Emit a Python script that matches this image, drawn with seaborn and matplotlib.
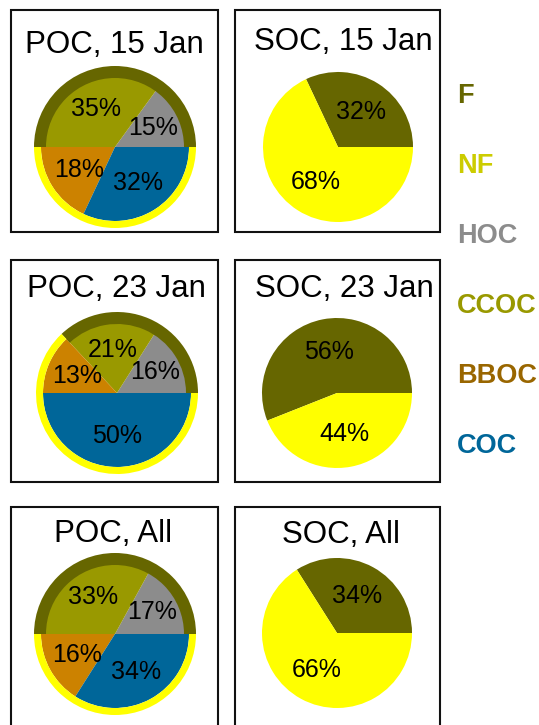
import matplotlib
matplotlib.use('Agg')
import matplotlib.pyplot as plt
import seaborn as sns
from matplotlib.patches import Rectangle

# source apportionment, percent
poc_groups = ['HOC', 'CCOC', 'BBOC', 'COC']
poc_15jan = [15, 35, 18, 32]
poc_23jan = [16, 21, 13, 50]
poc_all = [17, 33, 16, 34]

soc_groups = ['F', 'NF']
soc_15jan = [32, 68]
soc_23jan = [56, 44]
soc_all = [34, 66]

legend_labels = ['F', 'NF', 'HOC', 'CCOC', 'BBOC', 'COC']

colors = {'F': '#666600', 'NF': '#ffff00', 'HOC': '#8c8c8c',
          'CCOC': '#999900', 'BBOC': '#cc8200', 'COC': '#006699'}
text_colors = {'F': '#666600', 'NF': '#cccc00', 'HOC': '#8c8c8c',
               'CCOC': '#999900', 'BBOC': '#996600', 'COC': '#006699'}

sns.set_theme(style='white')
plt.rcParams['font.family'] = ['Liberation Sans', 'DejaVu Sans']
plt.rcParams['text.color'] = 'black'

W, H = 539, 725
fig = plt.figure(figsize=(W / 100, H / 100), dpi=100)
ax = fig.add_axes([0, 0, 1, 1])


def Y(y):
    # pixel rows are counted from the top
    return H - y


def box(x0, y0, x1, y1):
    ax.add_patch(Rectangle((x0, Y(y1)), x1 - x0, y1 - y0, fill=False,
                           lw=1.5, ec='#111111'))


def poc_pie(vals, cx, cy):
    c = (cx, Y(cy))
    ax.pie(vals, colors=[colors[g] for g in poc_groups], center=c, radius=74,
           startangle=0, autopct='%.0f%%', pctdistance=0.58,
           wedgeprops=dict(linewidth=0),
           textprops=dict(fontsize=18, color='black'), frame=True)
    fossil = vals[0] + vals[1]
    ax.pie([fossil, 100 - fossil], colors=[colors['F'], 'none'], center=c,
           radius=81, startangle=0, wedgeprops=dict(width=12, linewidth=0),
           frame=True)
    ax.pie([fossil, 100 - fossil], colors=['none', colors['NF']], center=c,
           radius=81, startangle=0, wedgeprops=dict(width=7, linewidth=0),
           frame=True)


def soc_pie(vals, cx, cy):
    ax.pie(vals, colors=[colors[g] for g in soc_groups], center=(cx, Y(cy)),
           radius=75, startangle=0, autopct='%.0f%%', pctdistance=0.56,
           wedgeprops=dict(linewidth=0),
           textprops=dict(fontsize=18, color='black'), frame=True)


def title(txt, cx, base):
    ax.text(cx, Y(base), txt, ha='center', va='baseline', fontsize=22.5,
            color='black')


# row 1
box(11, 10, 218, 232)
box(235, 10, 440, 232)
title('POC, 15 Jan', 114, 53)
title('SOC, 15 Jan', 343, 50)
poc_pie(poc_15jan, 115, 147)
soc_pie(soc_15jan, 338, 147)

# row 2
box(11, 260, 218, 482)
box(235, 260, 440, 482)
title('POC, 23 Jan', 116, 297)
title('SOC, 23 Jan', 344, 297)
poc_pie(poc_23jan, 117, 393)
soc_pie(soc_23jan, 337, 393)

# row 3
box(11, 507, 218, 732)
box(235, 507, 440, 732)
title('POC, All', 113, 542)
title('SOC, All', 341, 543)
poc_pie(poc_all, 115, 634)
soc_pie(soc_all, 337, 633)

# legend as coloured labels
for i, lab in enumerate(legend_labels):
    ax.text(457, Y(103 + 70 * i), lab, color=text_colors[lab], fontsize=19.5,
            fontweight='bold', ha='left', va='baseline')

ax.set_xlim(0, W)
ax.set_ylim(0, H)
ax.set_aspect('equal')
ax.axis('off')

fig.savefig('out.png', dpi=100, facecolor='white')
